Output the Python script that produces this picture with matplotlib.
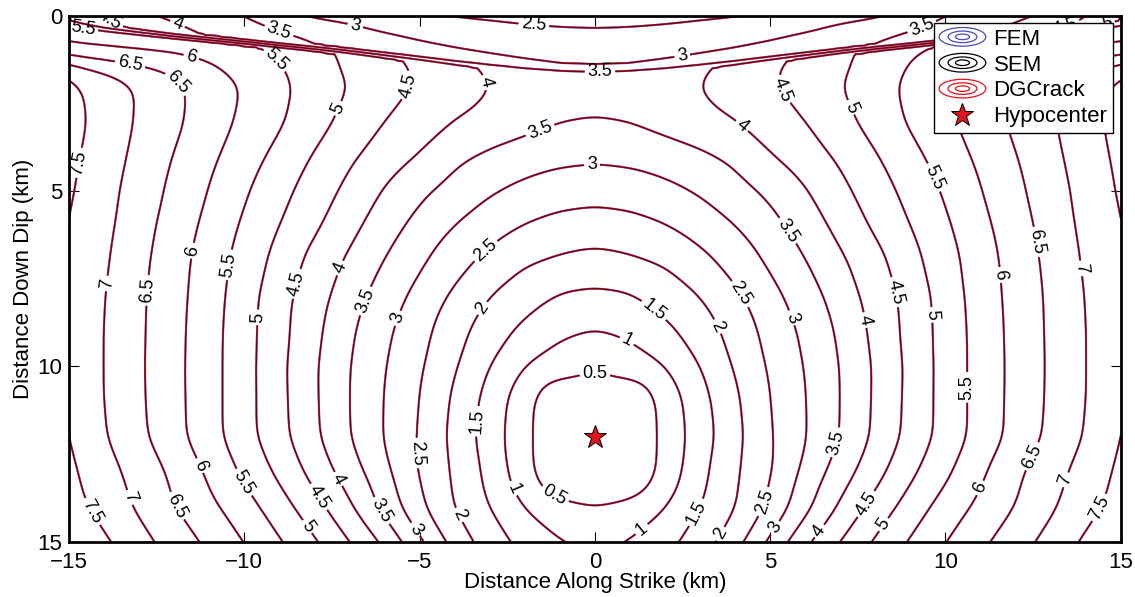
import numpy as np
import matplotlib
matplotlib.use("Agg")
import matplotlib.pyplot as plt
import matplotlib.tri as mtri
from matplotlib.patches import Ellipse
from matplotlib.lines import Line2D
from matplotlib.legend_handler import HandlerBase

plt.rcParams['font.family'] = ['Liberation Sans', 'DejaVu Sans']

# rupture time (s) at |along strike| = 0..15 km, mirrored to the negative side
strike_km = np.arange(0, 16)

# main front below the free-surface layer
dip_body = [0.0, 0.5, 1.0, 1.5, 2.0, 3.0, 4.0, 5.0, 6.0, 7.0, 8.0, 9.0,
            10.0, 11.0, 12.0, 13.0, 14.0, 15.0]
t_body = [
    [2.90, 2.95, 3.10, 3.35, 3.60, 3.90, 4.20, 4.50, 4.80, 5.00, 5.20, 5.35, 5.45, 5.50, 5.55, 5.60],
    [3.10, 3.15, 3.30, 3.55, 3.80, 4.10, 4.40, 4.70, 5.00, 5.20, 5.35, 5.45, 5.55, 5.62, 5.70, 5.80],
    [3.30, 3.35, 3.50, 3.75, 4.00, 4.30, 4.60, 4.90, 5.20, 5.45, 5.65, 5.85, 5.95, 6.00, 6.05, 6.10],
    [3.45, 3.50, 3.62, 3.95, 4.20, 4.45, 4.65, 4.90, 5.20, 5.55, 5.80, 6.10, 6.40, 6.65, 6.95, 7.40],
    [3.70, 3.74, 3.86, 4.02, 4.23, 4.44, 4.71, 5.00, 5.31, 5.63, 5.97, 6.29, 6.62, 6.96, 7.30, 7.63],
    [3.48, 3.53, 3.69, 3.84, 4.00, 4.25, 4.50, 4.84, 5.20, 5.57, 5.90, 6.24, 6.61, 6.94, 7.31, 7.70],
    [3.09, 3.14, 3.25, 3.41, 3.62, 3.97, 4.27, 4.59, 4.96, 5.35, 5.73, 6.11, 6.48, 6.86, 7.25, 7.62],
    [2.68, 2.72, 2.86, 3.05, 3.31, 3.60, 3.96, 4.37, 4.76, 5.16, 5.56, 5.98, 6.38, 6.78, 7.17, 7.56],
    [2.26, 2.33, 2.47, 2.72, 2.99, 3.33, 3.72, 4.15, 4.58, 5.00, 5.42, 5.86, 6.28, 6.70, 7.13, 7.48],
    [1.83, 1.92, 2.05, 2.35, 2.69, 3.08, 3.48, 3.91, 4.33, 4.83, 5.30, 5.76, 6.21, 6.63, 7.07, 7.44],
    [1.39, 1.45, 1.72, 2.00, 2.40, 2.84, 3.26, 3.72, 4.22, 4.68, 5.22, 5.73, 6.17, 6.59, 7.02, 7.40],
    [0.97, 1.08, 1.38, 1.74, 2.18, 2.67, 3.10, 3.58, 4.13, 4.66, 5.19, 5.70, 6.15, 6.58, 7.00, 7.38],
    [0.58, 0.77, 1.00, 1.50, 2.05, 2.57, 3.02, 3.51, 4.06, 4.62, 5.19, 5.69, 6.14, 6.57, 7.00, 7.38],
    [0.00, 0.00, 0.68, 1.31, 1.91, 2.50, 2.98, 3.50, 4.07, 4.64, 5.19, 5.69, 6.15, 6.58, 7.00, 7.42],
    [0.00, 0.00, 0.65, 1.25, 1.85, 2.46, 2.97, 3.51, 4.09, 4.66, 5.19, 5.69, 6.16, 6.61, 7.03, 7.50],
    [0.00, 0.00, 0.67, 1.36, 1.92, 2.45, 3.13, 3.74, 4.32, 4.89, 5.40, 5.92, 6.40, 6.80, 7.20, 7.60],
    [0.52, 0.62, 0.98, 1.50, 1.97, 2.59, 3.34, 4.07, 4.68, 5.22, 5.71, 6.12, 6.51, 6.92, 7.32, 7.70],
    [0.80, 1.03, 1.34, 1.74, 2.30, 3.09, 3.90, 4.51, 5.06, 5.55, 5.99, 6.39, 6.78, 7.17, 7.58, 8.00],
]

# fast front running along the free surface
dip_surf = [0.0, 0.5, 1.0, 1.5]
t_surf = [
    [2.33, 2.34, 2.37, 2.42, 2.48, 2.59, 2.71, 2.83, 2.94, 3.17, 3.50, 3.69, 3.88, 4.12, 4.48, 5.00],
    [2.57, 2.59, 2.64, 2.72, 2.80, 2.90, 3.02, 3.20, 3.38, 3.56, 3.74, 3.93, 4.20, 4.50, 4.80, 5.10],
    [2.82, 2.84, 2.90, 2.97, 3.05, 3.15, 3.28, 3.42, 3.60, 3.80, 4.00, 4.20, 4.40, 4.60, 4.80, 5.00],
    [3.07, 3.10, 3.15, 3.22, 3.30, 3.40, 3.50, 3.60, 3.70, 3.85, 4.00, 4.20, 4.40, 4.60, 4.80, 5.00],
]

# depth where the two fronts meet
front_depth = [1.50, 1.48, 1.45, 1.40, 1.32, 1.22, 1.12, 1.02, 0.93, 0.85,
               0.76, 0.67, 0.58, 0.48, 0.38, 0.25]

levels = [0.5, 1.0, 1.5, 2.0, 2.5, 3.0, 3.5, 4.0, 4.5, 5.0, 5.5, 6.0, 6.5, 7.0, 7.5]
hypo_x, hypo_z = 0.0, 12.0

xs = np.concatenate([-strike_km[:0:-1], strike_km]).astype(float)


def mirror(rows):
    a = np.asarray(rows, dtype=float)
    return np.hstack([a[:, :0:-1], a])


def grid_tri(depths):
    X, Z = np.meshgrid(xs, depths)
    nx, nz = len(xs), len(depths)
    tris = []
    for j in range(nz - 1):
        for i in range(nx - 1):
            k = j * nx + i
            if (i < nx // 2) == (j % 2 == 0):
                tris += [[k, k + 1, k + nx + 1], [k, k + nx + 1, k + nx]]
            else:
                tris += [[k, k + 1, k + nx], [k + 1, k + nx + 1, k + nx]]
    return mtri.Triangulation(X.ravel(), Z.ravel(), np.array(tris))


def soften(f, sig):
    # separable gaussian, odd reflection at the borders keeps the slope
    r = int(3 * sig)
    k = np.exp(-0.5 * (np.arange(-r, r + 1) / sig) ** 2)
    k /= k.sum()
    p = np.pad(f, r, mode='reflect', reflect_type='odd')
    p = np.apply_along_axis(lambda v: np.convolve(v, k, mode='valid'), 0, p)
    p = np.apply_along_axis(lambda v: np.convolve(v, k, mode='valid'), 1, p)
    return p


xx, zz = np.meshgrid(np.linspace(-15, 15, 601), np.linspace(0, 15, 301))
body = mtri.LinearTriInterpolator(grid_tri(dip_body), mirror(t_body).ravel())(xx, zz)
surf = mtri.LinearTriInterpolator(grid_tri(dip_surf), mirror(t_surf).ravel())(xx, np.minimum(zz, 1.5))
body = soften(np.ma.filled(body, 0.0), 6.0)
surf = soften(np.ma.filled(surf, 0.0), 5.0)

# thin transition where the surface front meets the main front
front = np.interp(xx, xs, mirror([front_depth])[0])
w = np.clip((zz - front) / 0.22 + 0.5, 0.0, 1.0)
trup = surf * (1 - w) + body * w

fig = plt.figure(figsize=(11.35, 5.97), dpi=100)
ax = fig.add_axes([0.0608, 0.0926, 0.9266, 0.8811])
ax.set_xlim(-15, 15)
ax.set_ylim(15, 0)

cs_fem = ax.contour(xx, zz, trup, levels, colors='#4a4ab8', linewidths=1.5)
cs_dg = ax.contour(xx, zz, trup, levels, colors='#e3121b', linewidths=1.2)
cs_sem = ax.contour(xx, zz, trup, levels, colors='k', linewidths=0.4)

# label anchors along the contours
label_at = [
    (-14.6, 0.32), (-13.9, 0.2), (-11.9, 0.22), (-9.0, 0.4), (-6.85, 0.35),
    (-1.75, 0.33), (2.5, 1.2), (0.15, 1.7), (9.28, 0.2), (13.4, 0.13), (14.6, 0.17),
    (-11.5, 1.12), (-11.8, 1.8), (-13.3, 1.6), (-9.25, 1.4), (-7.35, 2.63),
    (-5.36, 1.98), (-2.8, 1.83), (-1.6, 3.17), (-0.08, 4.26), (4.34, 2.97),
    (5.37, 2.1), (7.34, 2.6), (9.7, 4.6), (-14.67, 4.2), (-3.18, 6.63),
    (-3.27, 8.3), (1.8, 8.25), (1.0, 9.1), (0.0, 10.2), (4.2, 7.9), (3.57, 8.83),
    (5.55, 6.1), (5.66, 8.6), (-5.7, 8.6), (-13.96, 7.63), (-12.8, 7.83),
    (-11.5, 6.7), (-10.45, 7.1), (-9.68, 8.6), (-8.6, 7.62), (-7.26, 7.2),
    (-6.64, 8.1), (7.7, 8.68), (8.56, 7.88), (9.62, 8.53), (11.56, 7.39),
    (12.6, 6.45), (13.9, 7.2), (-14.4, 14.18), (-13.3, 13.75), (-11.97, 14.0),
    (-11.2, 12.8), (-10.0, 13.3), (-8.2, 14.57), (-7.84, 13.7), (-7.35, 13.23),
    (-6.2, 14.18), (-3.55, 11.55), (-5.32, 12.48), (-2.37, 13.5), (-1.19, 13.75),
    (-3.99, 14.29), (-5.12, 14.65), (1.38, 14.7), (2.92, 14.18), (3.63, 14.8),
    (4.94, 13.9), (5.14, 14.6), (6.85, 12.16), (6.37, 14.67), (7.7, 13.9),
    (8.22, 14.5), (10.5, 10.6), (11.0, 13.47), (12.4, 12.53), (13.48, 13.25),
    (14.4, 14.03),
]

for cs in (cs_fem, cs_dg):
    for t in cs.clabel(levels, manual=label_at, inline=True, fmt='%g', fontsize=13, inline_spacing=3):
        t.set_visible(False)
cs_sem.clabel(levels, manual=label_at, inline=True, fmt='%g', fontsize=13, inline_spacing=3, colors='k')

ax.plot(hypo_x, hypo_z, marker='*', ms=17, mfc='#e3121b', mec='k', mew=0.7, ls='none', zorder=5)

ax.set_xticks([-15, -10, -5, 0, 5, 10, 15])
ax.set_yticks([0, 5, 10, 15])
ax.tick_params(direction='in', length=7, width=0.8, top=True, right=True, labelsize=16)
ax.tick_params(axis='x', pad=7.5)
ax.tick_params(axis='y', pad=5)
for s in ax.spines.values():
    s.set_linewidth(2)
ax.set_xlabel('Distance Along Strike (km)', fontsize=16, labelpad=-0.5)
ax.set_ylabel('Distance Down Dip (km)', fontsize=16, labelpad=2.5)


class Rings(HandlerBase):
    def create_artists(self, legend, orig_handle, xdescent, ydescent,
                       width, height, fontsize, trans):
        c = orig_handle.get_color()
        cx, cy = width / 2 - xdescent, height / 2 - ydescent
        out = []
        for f in (1.0, 0.62, 0.3):
            out.append(Ellipse((cx, cy), width * f, height * 1.2 * f, fill=False,
                               edgecolor=c, lw=0.9, transform=trans))
        return out


h_fem = Line2D([], [], color='#4a4ab8')
h_sem = Line2D([], [], color='k')
h_dg = Line2D([], [], color='#e3121b')
h_hyp = Line2D([], [], marker='*', ms=17, mfc='#e3121b', mec='k', mew=0.7, ls='none')
leg = ax.legend([h_fem, h_sem, h_dg, h_hyp], ['FEM', 'SEM', 'DGCrack', 'Hypocenter'],
                handler_map={h_fem: Rings(), h_sem: Rings(), h_dg: Rings()},
                loc='upper right', bbox_to_anchor=(0.9927, 0.986), borderaxespad=0,
                fontsize=16, handlelength=2.1, handletextpad=0.35, labelspacing=0.22,
                borderpad=0.25, fancybox=False, framealpha=1, edgecolor='k')
leg.get_frame().set_linewidth(1.0)

fig.savefig('out.png', dpi=100)
